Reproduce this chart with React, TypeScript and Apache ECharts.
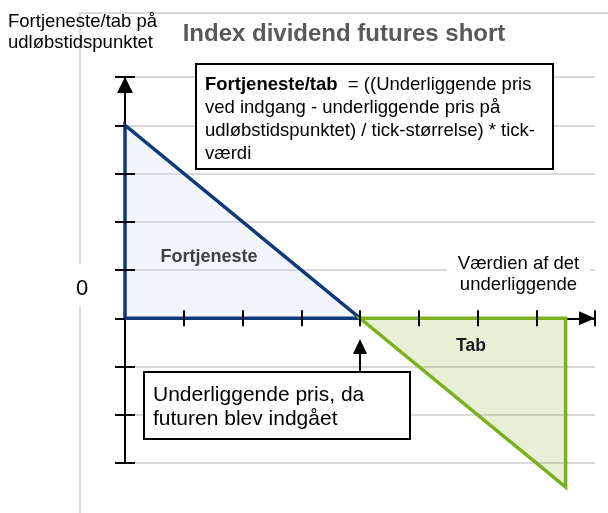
import React, { useEffect, useRef } from 'react';
import * as echarts from 'echarts';

// ---- data ----
const xRange = [0, 8];
const yRange = [-3, 5];
const xTickValues = [1, 2, 3, 4, 5, 6, 7, 8];
const yTickValues = [-3, -2, -1, 0, 1, 2, 3, 4, 5];
const yInnerTickValues = [-3, -2, -1, 1, 2, 3, 5];
const profitVertices = [[0, 0], [0, 4], [4, 0]];
const lossVertices = [[4, 0], [7.5, 0], [7.5, -3.5]];
const titleText = 'Index dividend futures short';
const yAxisTitle = ['Fortjeneste/tab på', 'udløbstidspunktet'];
const xAxisTitle = ['Værdien af det', 'underliggende'];
const zeroLabel = '0';
const profitLabel = 'Fortjeneste';
const lossLabel = 'Tab';
const formulaBold = 'Fortjeneste/tab';
const formulaLines = [
  '  = ((Underliggende pris',
  'ved indgang - underliggende pris på',
  'udløbstidspunktet) / tick-størrelse) * tick-',
  'værdi',
];
const calloutLines = ['Underliggende pris, da', 'futuren blev indgået'];

const FONT = "'Liberation Sans', Arial, Helvetica, sans-serif";
const BLACK = '#000000';
const GRID = '#d9d9d9';

function txt(text: string, x: number, y: number, o: any = {}) {
  const align = o.align || 'left';
  const va = o.va || 'middle';
  return {
    type: 'text',
    z: o.z ?? 20,
    silent: true,
    style: {
      text,
      x,
      y,
      fill: o.fill || BLACK,
      fontSize: o.size || 18,
      fontWeight: o.weight || 'normal',
      fontFamily: FONT,
      align,
      textAlign: align,
      verticalAlign: va,
      textVerticalAlign: va,
      lineHeight: o.lh,
      rich: o.rich,
    },
  };
}

function polygonRenderer(verts: number[][], fill: string, stroke: string) {
  return (params: any, api: any) => {
    if (params.dataIndex !== 0) return null;
    const points = verts.map((v) => api.coord(v));
    return {
      type: 'polygon',
      shape: { points },
      style: { fill, stroke, lineWidth: 3.5, lineJoin: 'miter' },
    };
  };
}

export default function App() {
  const ref = useRef<HTMLDivElement>(null);
  useEffect(() => {
    if (!ref.current) return;
    const chart = echarts.init(ref.current, undefined, { renderer: 'svg' });

    const baseX: any = {
      type: 'value',
      position: 'bottom',
      min: xRange[0],
      max: xRange[1],
      interval: 1,
      axisLabel: { show: false },
      splitLine: { show: false },
      axisTick: { show: false },
    };
    const baseY: any = {
      type: 'value',
      position: 'left',
      min: yRange[0],
      max: yRange[1],
      interval: 1,
      axisLabel: { show: false },
      splitLine: { show: false },
      axisTick: { show: false },
      axisLine: { show: false, onZero: false },
    };
    const tickStyle = { color: BLACK, width: 2 };

    chart.setOption({
      animation: false,
      grid: { left: 125, top: 77, width: 470, height: 386 },
      xAxis: [
        {
          ...baseX,
          z: 0,
          axisLine: {
            show: true,
            onZero: true,
            onZeroAxisIndex: 0,
            symbol: ['none', 'triangle'],
            symbolSize: [14, 16],
            symbolOffset: [0, -8],
            lineStyle: { color: BLACK, width: 2 },
          },
        },
        {
          ...baseX,
          z: 5,
          axisLine: { show: false, onZero: true, onZeroAxisIndex: 0 },
          axisTick: { show: true, inside: false, length: 8, customValues: xTickValues, lineStyle: tickStyle },
        },
        {
          ...baseX,
          z: 5,
          axisLine: { show: false, onZero: true, onZeroAxisIndex: 0 },
          axisTick: { show: true, inside: true, length: 8, customValues: xTickValues, lineStyle: tickStyle },
        },
      ],
      yAxis: [
        {
          ...baseY,
          z: 0,
          axisLine: {
            show: true,
            onZero: false,
            symbol: ['none', 'triangle'],
            symbolSize: [16, 16],
            symbolOffset: [0, -8],
            lineStyle: { color: BLACK, width: 2 },
          },
          splitLine: { show: true, lineStyle: { color: GRID, width: 2 } },
        },
        {
          ...baseY,
          z: 5,
          axisTick: { show: true, inside: false, length: 10, customValues: yTickValues, lineStyle: tickStyle },
        },
        {
          ...baseY,
          z: 5,
          axisTick: { show: true, inside: true, length: 10, customValues: yInnerTickValues, lineStyle: tickStyle },
        },
      ],
      series: [
        {
          type: 'custom',
          xAxisIndex: 0,
          yAxisIndex: 0,
          silent: true,
          z: 2,
          data: profitVertices,
          renderItem: polygonRenderer(profitVertices, 'rgba(205,214,232,0.25)', '#0f3a78'),
        },
        {
          type: 'custom',
          xAxisIndex: 0,
          yAxisIndex: 0,
          silent: true,
          z: 2,
          data: lossVertices,
          renderItem: polygonRenderer(lossVertices, 'rgba(150,192,72,0.23)', '#7ab11c'),
        },
      ],
      graphic: [
        // frame
        { type: 'line', z: 0, silent: true, shape: { x1: 79, y1: 13, x2: 608, y2: 13 }, style: { stroke: GRID, lineWidth: 2 } },
        { type: 'line', z: 0, silent: true, shape: { x1: 80, y1: 13, x2: 80, y2: 264 }, style: { stroke: GRID, lineWidth: 2 } },
        { type: 'line', z: 0, silent: true, shape: { x1: 80, y1: 307, x2: 80, y2: 513 }, style: { stroke: GRID, lineWidth: 2 } },
        // title + axis titles
        txt(titleText, 344, 32, { align: 'center', size: 24, weight: 'bold', fill: '#595959' }),
        txt(yAxisTitle.join('\n'), 8, 10, { va: 'top', size: 18.5, lh: 21 }),
        txt(zeroLabel, 82, 287, { align: 'center', size: 22 }),
        { type: 'rect', z: 3, silent: true, shape: { x: 447, y: 251, width: 143, height: 42 }, style: { fill: '#ffffff' } },
        txt(xAxisTitle.join('\n'), 518.5, 252, { align: 'center', va: 'top', size: 18.5, lh: 21 }),
        // region labels
        txt(profitLabel, 209, 256, { align: 'center', size: 18, weight: 'bold', fill: '#404040' }),
        txt(lossLabel, 471, 345, { align: 'center', size: 17.5, weight: 'bold', fill: '#1a1a1a' }),
        // formula box
        { type: 'rect', z: 10, silent: true, shape: { x: 196, y: 64, width: 357, height: 105 }, style: { fill: '#ffffff', stroke: BLACK, lineWidth: 2 } },
        txt('{b|' + formulaBold + '}' + formulaLines.join('\n'), 205, 72, {
          va: 'top',
          size: 18.5,
          lh: 23,
          rich: { b: { fontWeight: 'bold', fontSize: 18.5, fontFamily: FONT, lineHeight: 23, fill: BLACK } },
        }),
        // callout arrow + box
        { type: 'line', z: 10, silent: true, shape: { x1: 360, y1: 350, x2: 360, y2: 372 }, style: { stroke: BLACK, lineWidth: 2 } },
        { type: 'polygon', z: 10, silent: true, shape: { points: [[353, 354], [367, 354], [360, 339]] }, style: { fill: BLACK } },
        { type: 'rect', z: 10, silent: true, shape: { x: 144, y: 372, width: 266, height: 67 }, style: { fill: '#ffffff', stroke: BLACK, lineWidth: 2 } },
        txt(calloutLines.join('\n'), 153, 381.5, { va: 'top', size: 21, lh: 24 }),
      ],
    });
    return () => chart.dispose();
  }, []);
  return <div ref={ref} style={{ position: 'fixed', left: 0, top: 0, width: 608, height: 513 }} />;
}
